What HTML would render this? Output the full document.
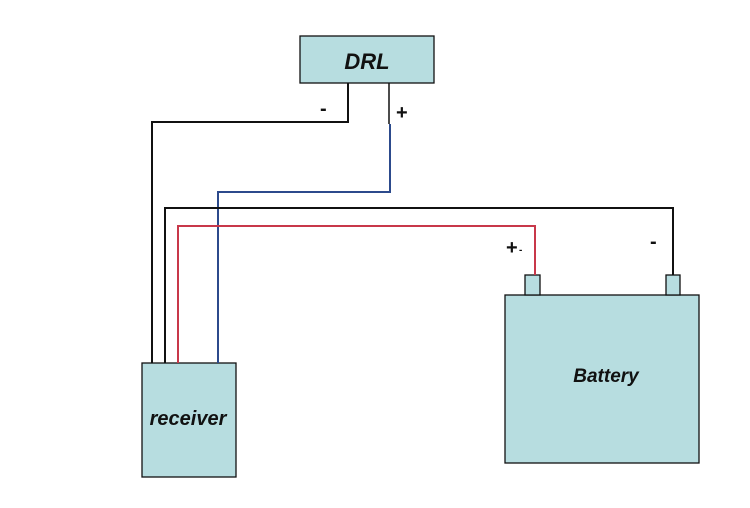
<!DOCTYPE html>
<html><head><style>body{margin:0;background:#fff}</style></head><body>
<svg width="750" height="508" xmlns="http://www.w3.org/2000/svg" style="display:block;font-family:'Liberation Sans',sans-serif">
<rect width="750" height="508" fill="#fff"/>
<g fill="#b7dde0" stroke="#111" stroke-width="1.3">
<rect x="300" y="36" width="134" height="47"/>
<rect x="142" y="363" width="94" height="114"/>
<rect x="505" y="295" width="194" height="168"/>
<rect x="525" y="275" width="15" height="20"/>
<rect x="666" y="275" width="14" height="20"/>
</g>
<g fill="none" stroke-width="2">
<polyline points="348,83 348,122 152,122 152,363" stroke="#111"/>
<polyline points="389,83 389,124" stroke="#111" stroke-width="1.5"/>
<polyline points="390,124 390,192 218,192 218,363" stroke="#2c4a8c"/>
<polyline points="165,363 165,208 673,208 673,275" stroke="#111"/>
<polyline points="178,363 178,226 535,226 535,275" stroke="#c8384a"/>
</g>
<g font-weight="bold" font-style="italic" fill="#111" text-anchor="middle">
<text x="367" y="69" font-size="22">DRL</text>
<text x="188" y="425" font-size="20">receiver</text>
<text x="606" y="382" font-size="19">Battery</text>
</g>
<g font-weight="bold" fill="#111" font-size="20">
<text x="320" y="115">-</text>
<text x="396" y="119">+</text>
<text x="506" y="254">+</text>
<text x="519" y="253" font-size="10">-</text>
<text x="650" y="248">-</text>
</g>
</svg>
</body></html>
